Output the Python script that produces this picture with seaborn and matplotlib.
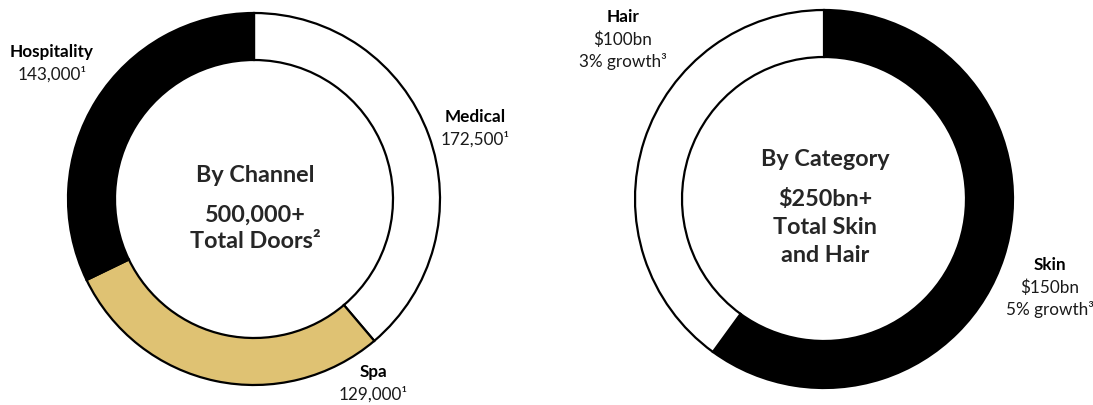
import matplotlib
matplotlib.use("Agg")
import matplotlib.pyplot as plt
import seaborn as sns

# Door counts by channel (clockwise from 12 o'clock)
channels = ["Medical", "Spa", "Hospitality"]
doors = [172500, 129000, 143000]
channel_colors = ["#FFFFFF", "#DFC273", "#000000"]

# Market size by category, $bn (clockwise from 12 o'clock)
categories = ["Skin", "Hair"]
market_bn = [150, 100]
growth_pct = [5, 3]
category_colors = ["#000000", "#FFFFFF"]

sns.set_theme(style="white")
plt.rcParams["font.family"] = ["Lato", "DejaVu Sans"]

W, H = 1093, 405
fig = plt.figure(figsize=(W / 100, H / 100), dpi=100)
ax = fig.add_axes([0, 0, 1, 1])

ring = dict(width=47, edgecolor="black", linewidth=1.6)

# Left donut: channels
ax.pie(doors, colors=channel_colors, startangle=90, counterclock=False,
       radius=186, center=(254, H - 199), wedgeprops=ring, frame=True)
# Right donut: categories
ax.pie(market_bn, colors=category_colors, startangle=90, counterclock=False,
       radius=189, center=(824, H - 199), wedgeprops=ring, frame=True)
ax.set_xlim(0, W)
ax.set_ylim(0, H)
ax.set_aspect("equal")
ax.axis("off")


def y(px):
    return H - px


def seg_label(x, top, name, lines, fs=12.3, gap=22.5):
    ax.text(x, y(top), name, ha="center", va="center", fontsize=fs,
            fontweight="bold", color="black")
    for i, line in enumerate(lines, start=1):
        ax.text(x, y(top + gap * i), line, ha="center", va="center",
                fontsize=fs, color="#1a1a1a")


sup1 = "\u00b9"
sup2 = "\u00b2"
sup3 = "\u00b3"

seg_label(52, 52, channels[2], [f"{doors[2]:,}{sup1}"])
seg_label(475, 117, channels[0], [f"{doors[0]:,}{sup1}"])
seg_label(373, 372, channels[1], [f"{doors[1]:,}{sup1}"])

seg_label(623, 17, categories[1],
          [f"${market_bn[1]}bn", f"{growth_pct[1]}% growth{sup3}"])
seg_label(1050, 265, categories[0],
          [f"${market_bn[0]}bn", f"{growth_pct[0]}% growth{sup3}"])

# Centre captions
cfs = 16.8
ax.text(255, y(175), "By Channel", ha="center", va="center", fontsize=cfs,
        fontweight="bold")
ax.text(255, y(215), "500,000+", ha="center", va="center", fontsize=cfs,
        fontweight="bold")
ax.text(255, y(242), f"Total Doors{sup2}", ha="center", va="center",
        fontsize=cfs, fontweight="bold")

total_bn = sum(market_bn)
ax.text(825, y(160), "By Category", ha="center", va="center", fontsize=cfs,
        fontweight="bold")
ax.text(825, y(200), f"${total_bn}bn+", ha="center", va="center",
        fontsize=cfs, fontweight="bold")
ax.text(825, y(228), "Total Skin", ha="center", va="center", fontsize=cfs,
        fontweight="bold")
ax.text(825, y(255), "and Hair", ha="center", va="center", fontsize=cfs,
        fontweight="bold")

fig.savefig("out.png", dpi=100, facecolor="white")
